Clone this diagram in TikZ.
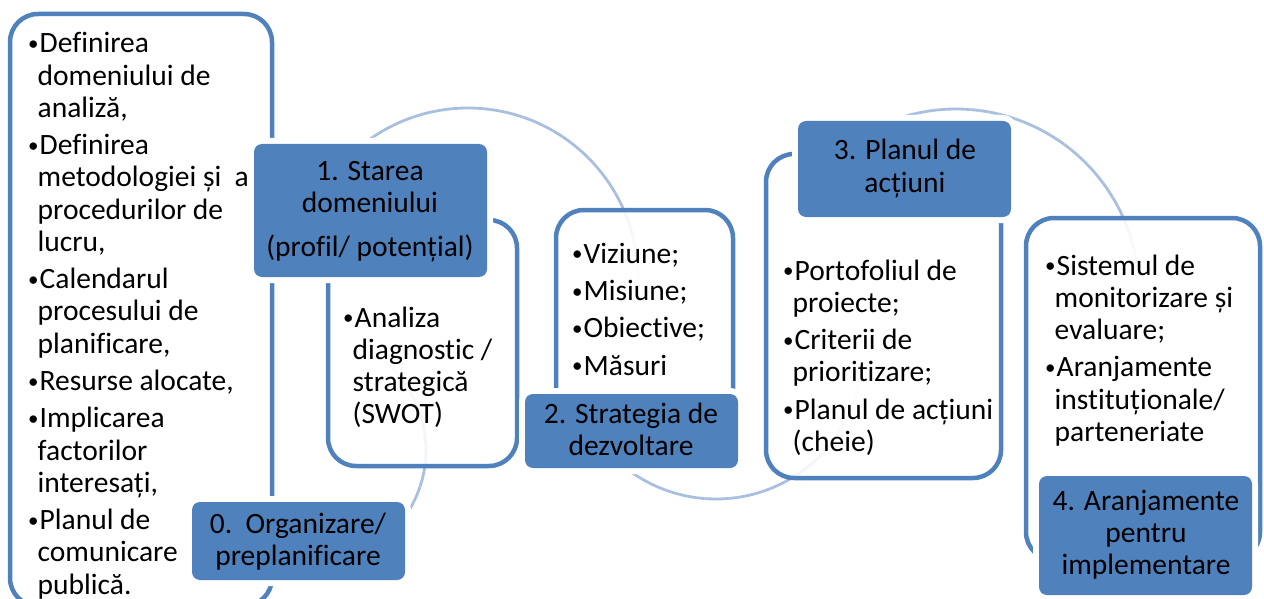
\documentclass[tikz,border=0pt]{standalone}
\usepackage{fontspec}
\setmainfont{Carlito}[Ligatures={NoCommon,NoRare}]
\definecolor{acc}{HTML}{4F81BD}
\definecolor{arcc}{HTML}{A9BFDF}
\newcommand\bul{\makebox[11.5pt][l]{\raisebox{2.3pt}{\fontsize{21}{21}\selectfont •}}}
\newcommand\cnt{\hspace*{9.5pt}}
\newcommand\fadearc[6]{%
  \foreach \i in {0,...,39}{%
    \pgfmathsetmacro\aa{#4+(#5-#4)*\i/40}%
    \pgfmathsetmacro\ab{#4+(#5-#4)*(\i+1)/40}%
    \pgfmathsetmacro\op{min(1,(40-\i)/#6)}%
    \draw[arcline,draw opacity=\op] (#1,#2) ++(\aa:#3) arc[start angle=\aa,end angle=\ab,radius=#3];
  }}
\begin{document}
\begin{tikzpicture}[x=1pt,y=-1pt,
  boxw/.style={draw=acc, line width=4.5pt, fill=white, fill opacity=0.85, rounded corners=28pt, inner sep=0pt},
  lbl/.style={fill=acc, rounded corners=8pt, inner sep=0pt, preaction={draw=white, line width=12pt}},
  txt/.style={inner sep=0pt, anchor=base west, font=\fontsize{29.5}{32.2}\selectfont},
  ctxt/.style={inner sep=0pt, anchor=base, font=\fontsize{29.5}{32.2}\selectfont},
  arcline/.style={draw=arcc, line width=2.8pt}]
\useasboundingbox (0,0) rectangle (1264,599);
% connecting arcs
\fadearc{468}{278}{170}{-150}{0}{7}
\fadearc{310}{450}{116}{45}{-60}{20}
\fadearc{716}{352}{147}{140}{10}{14}
\fadearc{956}{292}{183}{-120}{-5}{7}
% white boxes
\node[boxw, minimum width=262pt, minimum height=592pt] (b0) at (141,310) {};
\node[boxw, minimum width=189pt, minimum height=246pt] (b1) at (422.5,343) {};
\node[boxw, minimum width=177pt, minimum height=250pt] (b2) at (644.5,335) {};
\node[boxw, minimum width=235pt, minimum height=324pt] (b3) at (883.5,316) {};
\node[boxw, minimum width=234pt, minimum height=342pt] (b4) at (1143,389) {};
% labels
\node[lbl, minimum width=213pt, minimum height=78pt] (l0) at (298.5,541) {};
\node[lbl, minimum width=233pt, minimum height=133pt] (l1) at (370.5,210.5) {};
\node[lbl, minimum width=213pt, minimum height=74pt] (l2) at (631.5,431) {};
\node[lbl, minimum width=213pt, minimum height=96pt] (l3) at (904.5,169) {};
\node[lbl, minimum width=213pt, minimum height=119pt] (l4) at (1145.5,535.5) {};
% label texts
\node[ctxt] (t0) at (298,533) {\begin{tabular}[t]{@{}c@{}}0.\ \ Organizare/\\preplanificare\end{tabular}};
\node[ctxt] (t1) at (370,180) {\begin{tabular}[t]{@{}c@{}}1. Starea\\domeniului\\[12.5pt](profil/ potențial)\end{tabular}};
\node[ctxt] (t2) at (631,423) {\begin{tabular}[t]{@{}c@{}}2. Strategia de\\dezvoltare\end{tabular}};
\node[ctxt] (t3) at (905,160) {\begin{tabular}[t]{@{}c@{}}3. Planul de\\acțiuni\end{tabular}};
\node[ctxt] (t4) at (1146,510) {\begin{tabular}[t]{@{}c@{}}4. Aranjamente\\pentru\\implementare\end{tabular}};
% box texts
\node[txt] (x0) at (28,53) {\begin{tabular}[t]{@{}l@{}}
\bul Definirea\\ \cnt domeniului de\\ \cnt analiză,\\[5.2pt]
\bul Definirea\\ \cnt metodologiei și\ \ a\\ \cnt procedurilor de\\ \cnt lucru,\\[5.2pt]
\bul Calendarul\\ \cnt procesului de\\ \cnt planificare,\\[5.2pt]
\bul Resurse alocate,\\[5.2pt]
\bul Implicarea\\ \cnt factorilor\\ \cnt interesați,\\[5.2pt]
\bul Planul de\\ \cnt comunicare\\ \cnt publică.
\end{tabular}};
\node[txt] (x1) at (343,327) {\begin{tabular}[t]{@{}l@{}}
\bul Analiza\\ \cnt diagnostic /\\ \cnt strategică\\ \cnt (SWOT)
\end{tabular}};
\node[txt] (x2) at (572,263) {\begin{tabular}[t]{@{}l@{}}
\bul Viziune;\\[5.2pt] \bul Misiune;\\[5.2pt] \bul Obiective;\\[5.2pt] \bul Măsuri
\end{tabular}};
\node[txt] (x3) at (783,280) {\begin{tabular}[t]{@{}l@{}}
\bul Portofoliul de\\ \cnt proiecte;\\[5.2pt]
\bul Criterii de\\ \cnt prioritizare;\\[5.2pt]
\bul Planul de acțiuni\\ \cnt (cheie)
\end{tabular}};
\node[txt] (x4) at (1045,275) {\begin{tabular}[t]{@{}l@{}}
\bul Sistemul de\\ \cnt monitorizare și\\ \cnt evaluare;\\[5.2pt]
\bul Aranjamente\\ \cnt instituționale/\\ \cnt parteneriate
\end{tabular}};
\end{tikzpicture}
\end{document}
